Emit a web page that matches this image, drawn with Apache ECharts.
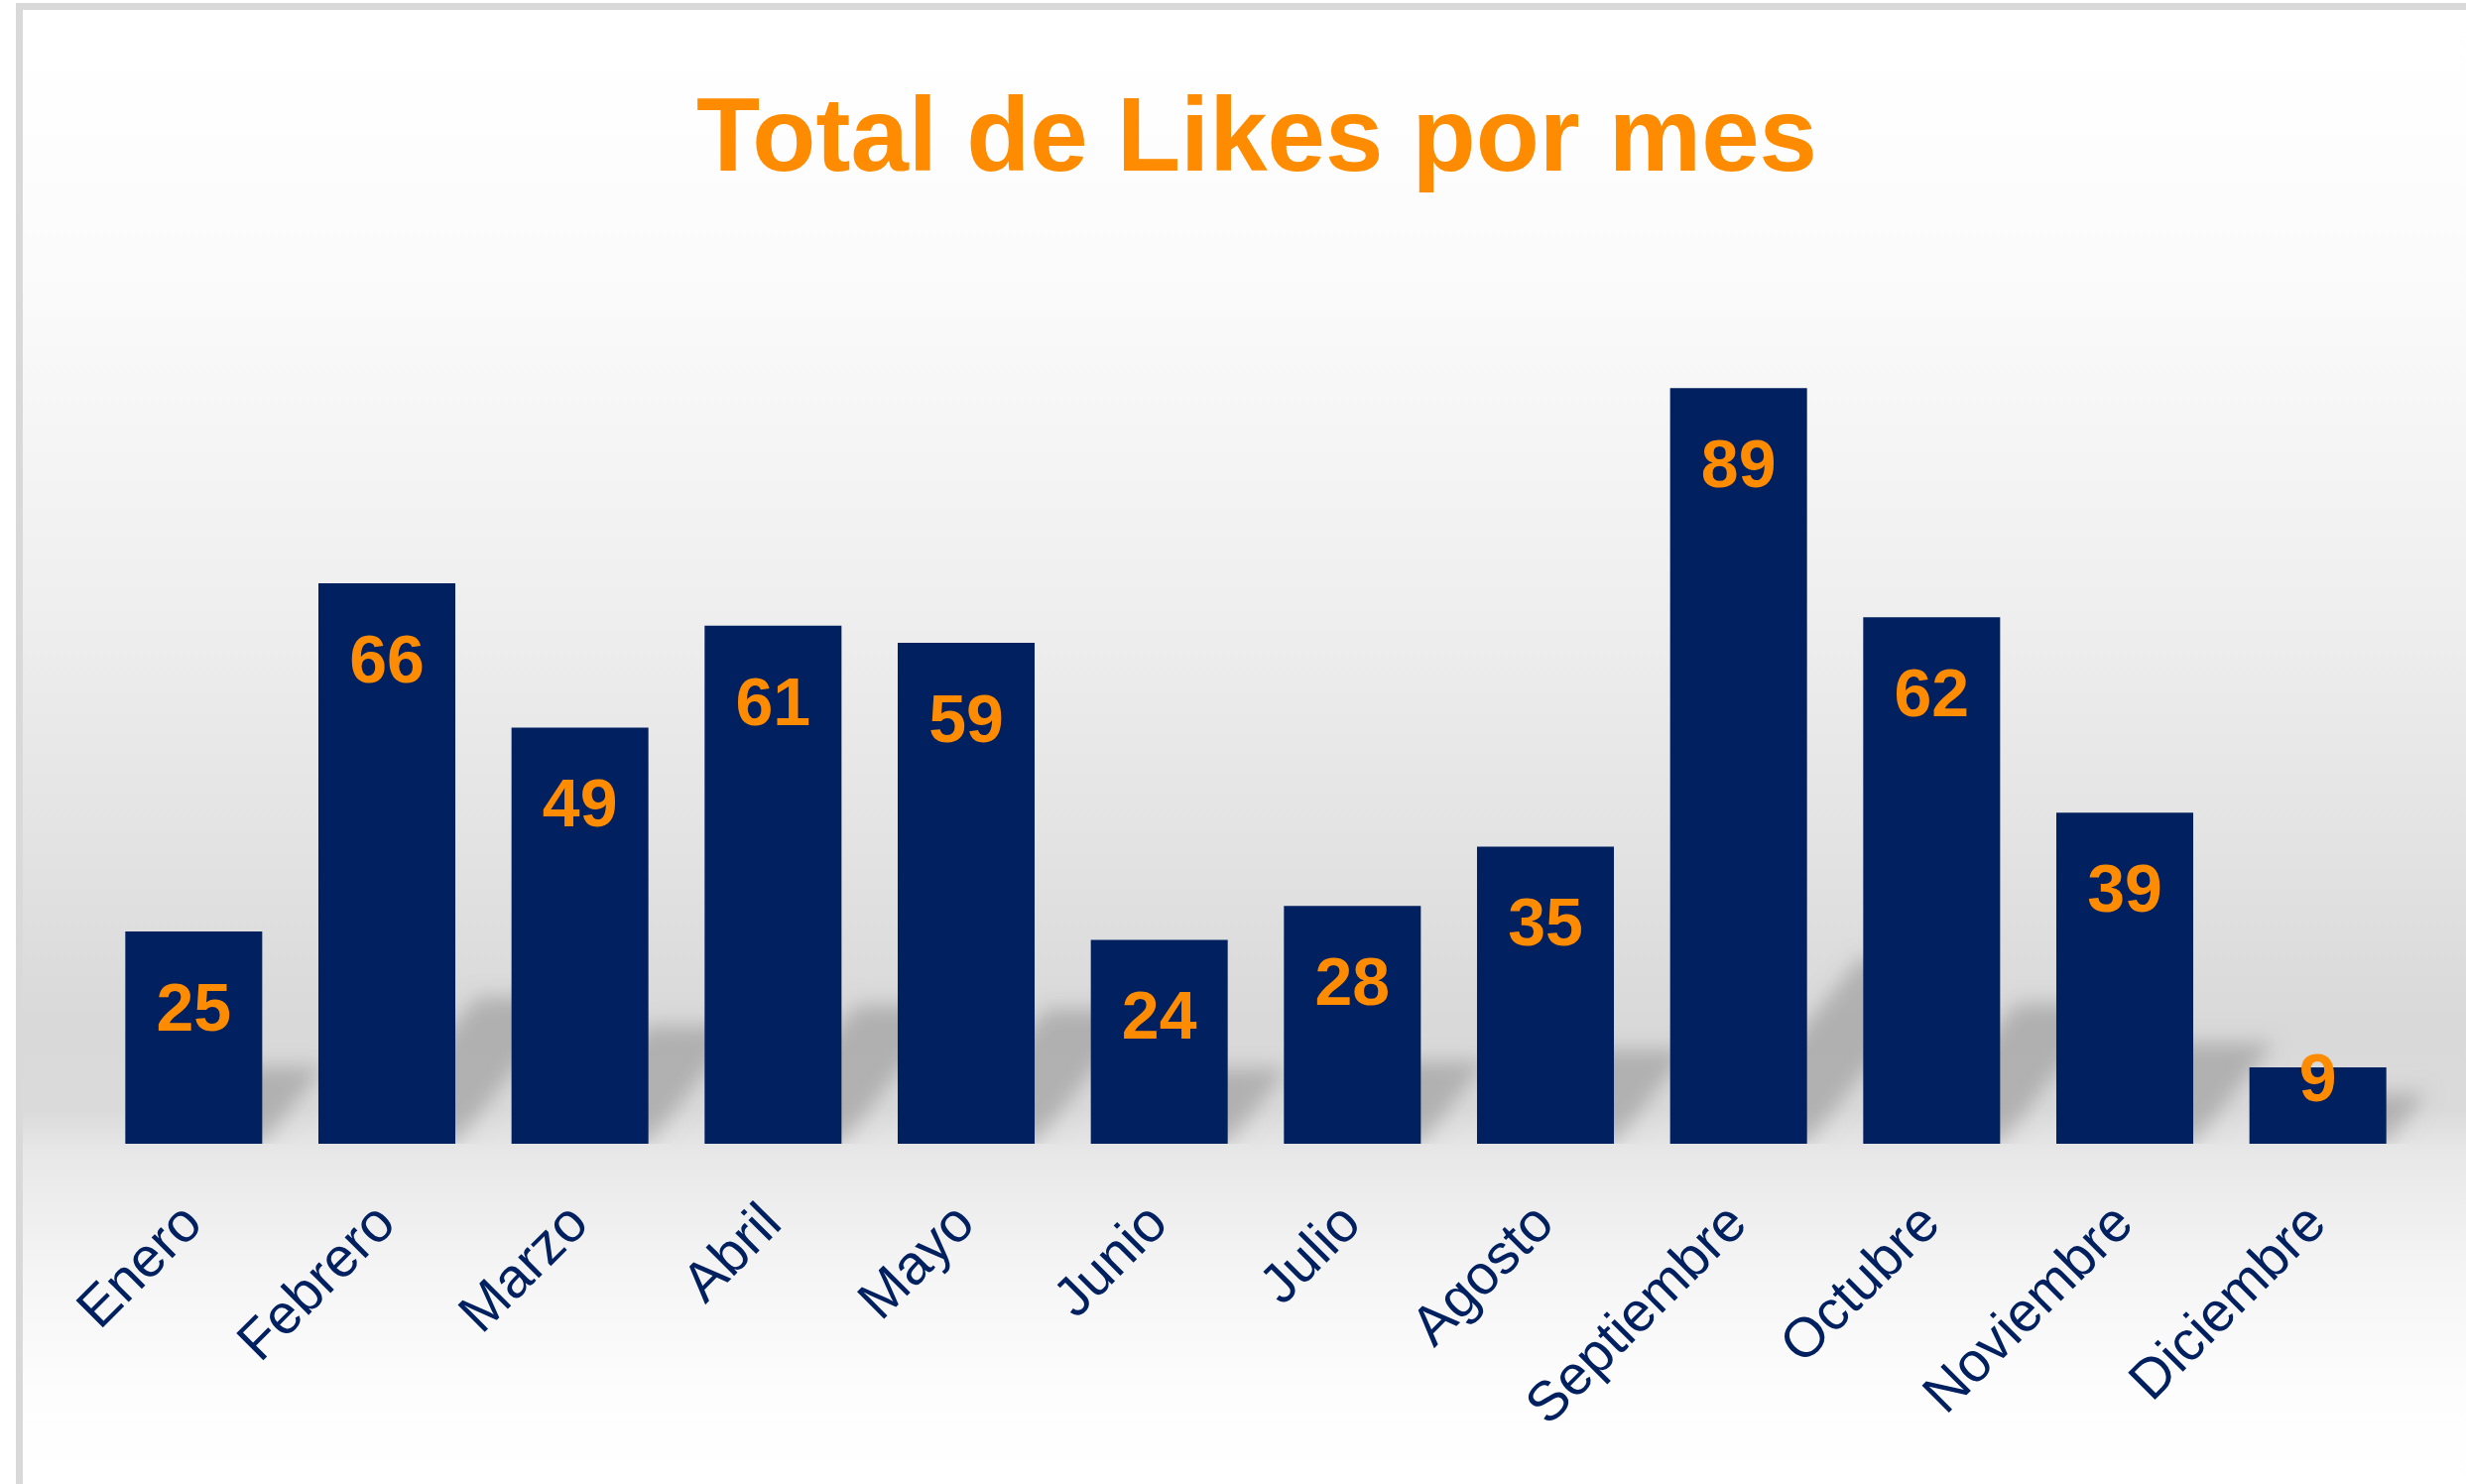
<!DOCTYPE html>
<html>
<head>
<meta charset="utf-8">
<script src="https://cdn.jsdelivr.net/npm/echarts@6/dist/echarts.min.js"></script>
<style>
  html, body { margin: 0; padding: 0; background: #fff; }
  #main { width: 2486px; height: 1496px; }
</style>
</head>
<body>
<div id="main"></div>
<script>
// datos
var meses = ['Enero', 'Febrero', 'Marzo', 'Abril', 'Mayo', 'Junio', 'Julio',
  'Agosto', 'Septiembre', 'Octubre', 'Noviembre', 'Diciembre'];
var likes = [25, 66, 49, 61, 59, 24, 28, 35, 89, 62, 39, 9];

var titulo = 'Total de Likes por mes';
var naranja = '#FF8C00';
var azul = '#002060';
var fuente = '"Liberation Sans", Arial, sans-serif';

var myChart = echarts.init(document.getElementById('main'));

// barras muy bajas: la etiqueta sube hasta el borde superior
var datosBarras = likes.map(function (v) {
  if (v < 15) {
    return { value: v, label: { offset: [0, -66] } };
  }
  return v;
});

// sombra en perspectiva detras de cada barra (solo se dibuja el desenfoque)
var OFF = 5000;
function sombra(params, api) {
  var i = api.value(0);
  var base = api.coord([i, 0]);
  var top = api.coord([i, api.value(1)]);
  var w = api.size([1, 0])[0] * 0.709;
  var x0 = base[0] - w / 2, x1 = base[0] + w / 2, yb = base[1];
  var h = (yb - top[1]) * 0.2 + 35;
  var dx = h * 0.8;
  return {
    type: 'polygon',
    shape: {
      points: [
        [x0 + w * 0.3 - OFF, yb],
        [x1 - OFF, yb],
        [x1 + dx - OFF, yb - h],
        [x0 + w * 0.3 + dx - OFF, yb - h]
      ]
    },
    clipPath: { type: 'rect', shape: { x: x0 - 60, y: 0, width: w + 400, height: yb } },
    style: {
      fill: '#000',
      shadowBlur: 20,
      shadowColor: 'rgba(0,0,0,0.19)',
      shadowOffsetX: OFF,
      shadowOffsetY: 0
    }
  };
}

var option = {
  backgroundColor: '#fff',
  animation: false,
  graphic: {
    elements: [{
      type: 'rect',
      z: -10,
      silent: true,
      shape: { x: 19.5, y: 6.5, width: 2480, height: 1500 },
      style: {
        stroke: '#d9d9d9',
        lineWidth: 7,
        fill: {
          type: 'linear', x: 0, y: 0, x2: 0, y2: 1,
          colorStops: [
            { offset: 0, color: '#ffffff' },
            { offset: 0.07, color: '#fefefe' },
            { offset: 0.2, color: '#fafafa' },
            { offset: 0.4, color: '#efefef' },
            { offset: 0.55, color: '#e4e4e4' },
            { offset: 0.68, color: '#d9d9d9' },
            { offset: 0.74, color: '#dadada' },
            { offset: 0.77, color: '#e8e8e8' },
            { offset: 0.85, color: '#f5f5f5' },
            { offset: 0.93, color: '#fdfdfd' },
            { offset: 1, color: '#ffffff' }
          ]
        }
      }
    }]
  },
  title: {
    text: titulo,
    left: 1262,
    top: 86,
    textAlign: 'center',
    textStyle: {
      color: naranja,
      fontSize: 105,
      fontWeight: 'bold',
      fontFamily: fuente
    }
  },
  grid: { left: 98, right: 52, top: 297, bottom: 343 },
  xAxis: {
    type: 'category',
    data: meses,
    axisLine: { show: false },
    axisTick: { show: false },
    axisLabel: {
      rotate: 45,
      margin: 72,
      interval: 0,
      color: azul,
      fontSize: 56,
      fontFamily: fuente
    }
  },
  yAxis: {
    type: 'value',
    min: 0,
    max: 100,
    show: false,
    splitLine: { show: false }
  },
  series: [{
    type: 'custom',
    z: 1,
    clip: false,
    silent: true,
    renderItem: sombra,
    data: likes.map(function (v, i) { return [i, v]; })
  }, {
    type: 'bar',
    z: 2,
    barWidth: '70.9%',
    data: datosBarras,
    itemStyle: { color: azul },
    label: {
      show: true,
      position: 'insideTop',
      distance: 47,
      color: naranja,
      fontSize: 68,
      fontWeight: 'bold',
      fontFamily: fuente
    }
  }]
};

myChart.setOption(option);
</script>
</body>
</html>
